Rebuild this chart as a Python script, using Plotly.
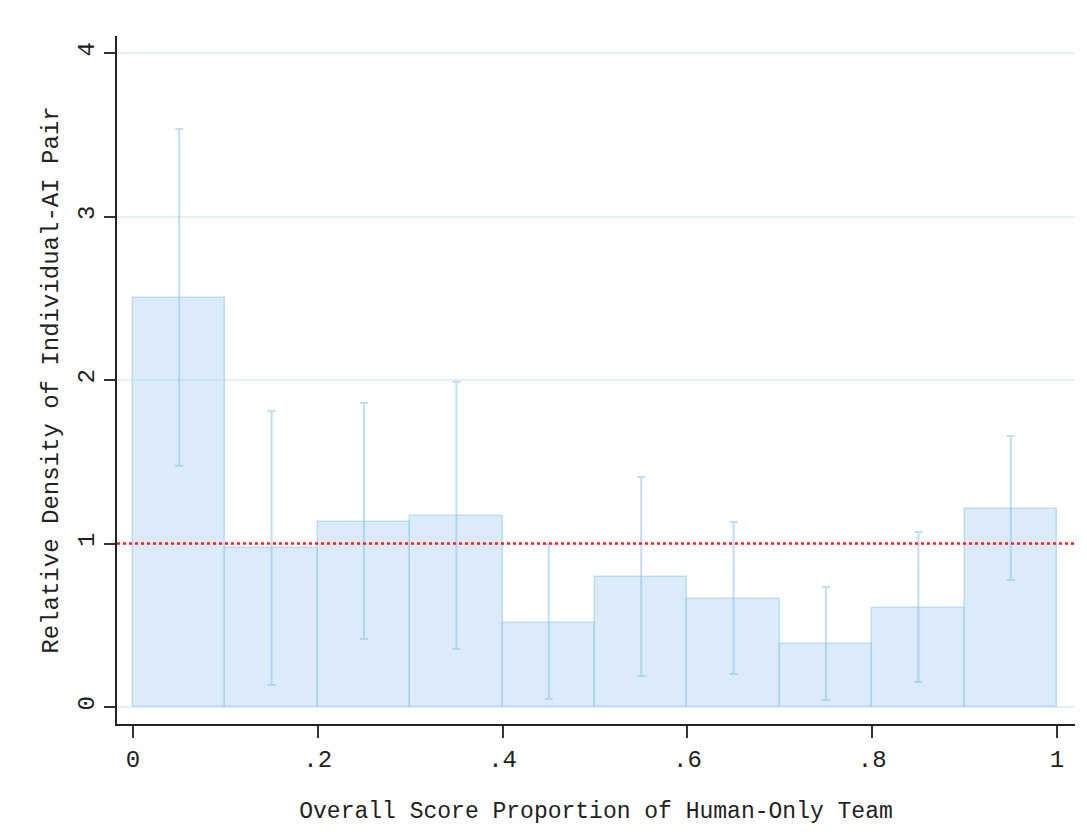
import plotly.graph_objects as go

bin_centers = [0.05, 0.15, 0.25, 0.35, 0.45, 0.55, 0.65, 0.75, 0.85, 0.95]
density = [2.50, 0.972, 1.131, 1.168, 0.514, 0.795, 0.660, 0.385, 0.606, 1.211]
ci_upper = [3.535, 1.810, 1.860, 1.988, 0.997, 1.407, 1.131, 0.734, 1.070, 1.657]
ci_lower = [1.474, 0.135, 0.416, 0.355, 0.049, 0.190, 0.202, 0.043, 0.153, 0.777]
x_ticks = [0, 0.2, 0.4, 0.6, 0.8, 1]
x_tick_labels = ["0", ".2", ".4", ".6", ".8", "1"]
y_ticks = [0, 1, 2, 3, 4]
reference_level = 1

font_family = "Liberation Mono, DejaVu Sans Mono, monospace"

fig = go.Figure()
fig.add_trace(go.Bar(
    x=bin_centers,
    y=density,
    width=[0.1] * len(bin_centers),
    marker=dict(color="rgba(170,208,240,0.42)",
                line=dict(color="rgba(150,200,235,0.55)", width=1.5)),
    error_y=dict(
        type="data",
        symmetric=False,
        array=[u - d for u, d in zip(ci_upper, density)],
        arrayminus=[d - l for d, l in zip(density, ci_lower)],
        color="rgba(140,195,235,0.55)",
        thickness=2,
        width=4,
    ),
    showlegend=False,
))

fig.add_hline(y=reference_level, line=dict(color="#ff2020", width=2.5, dash="dot"))

fig.update_layout(
    width=1087,
    height=838,
    paper_bgcolor="white",
    plot_bgcolor="white",
    margin=dict(l=109, r=20, t=28, b=122),
    bargap=0,
    font=dict(family=font_family, color="#222222"),
    xaxis=dict(
        range=[-0.0173, 1.0195],
        tickmode="array",
        tickvals=x_ticks,
        ticktext=x_tick_labels,
        ticks="outside",
        ticklen=12,
        tickwidth=2,
        tickcolor="#333333",
        showline=True,
        linecolor="#222222",
        linewidth=2,
        showgrid=False,
        zeroline=False,
        automargin=False,
        tickfont=dict(size=24, family=font_family),
        title=dict(text="Overall Score Proportion of Human-Only Team",
                   font=dict(size=23, family=font_family), standoff=29),
    ),
    yaxis=dict(
        range=[-0.104, 4.104],
        tickmode="array",
        tickvals=y_ticks,
        ticks="outside",
        ticklen=11,
        tickwidth=2,
        tickcolor="#333333",
        tickangle=-90,
        showline=True,
        linecolor="#222222",
        linewidth=2,
        showgrid=True,
        gridcolor="#e6eff2",
        gridwidth=2,
        zeroline=False,
        automargin=False,
        tickfont=dict(size=24, family=font_family),
        title=dict(text="Relative Density of Individual-AI Pair",
                   font=dict(size=24, family=font_family), standoff=9),
    ),
)

fig.write_html("out.html")
